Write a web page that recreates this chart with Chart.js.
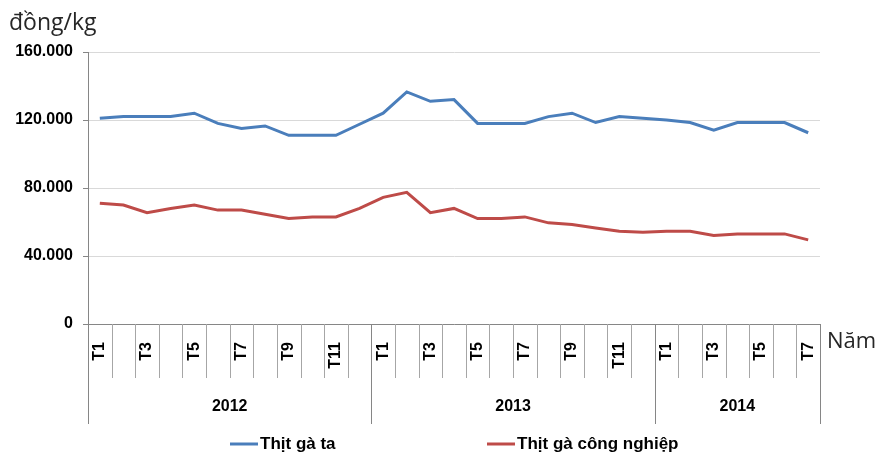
<!DOCTYPE html>
<html>
<head>
<meta charset="utf-8">
<script src="https://cdn.jsdelivr.net/npm/chart.js@4"></script>
<style>
  html, body { margin: 0; padding: 0; background: #fff; }
  #wrap { width: 877px; height: 454px; position: relative; }
</style>
</head>
<body>
<div id="wrap"><canvas id="chart"></canvas></div>
<script>
// Nhãn tháng và năm
const monthLabels = ['T1','T2','T3','T4','T5','T6','T7','T8','T9','T10','T11','T12',
                     'T1','T2','T3','T4','T5','T6','T7','T8','T9','T10','T11','T12',
                     'T1','T2','T3','T4','T5','T6','T7'];
const yearLabels = ['2012', '2013', '2014'];
const monthsPerYear = [12, 12, 7];

// Giá (đồng/kg)
const gaTa = [121000, 122000, 122000, 122000, 124000, 118000, 115000, 116500, 111000, 111000, 111000, 117500,
              124000, 136500, 131000, 132000, 118000, 118000, 118000, 122000, 124000, 118500, 122000, 121000,
              120000, 118500, 114000, 118500, 118500, 118500, 112500];
const gaCongNghiep = [71000, 70000, 65500, 68000, 70000, 67000, 67000, 64500, 62000, 63000, 63000, 68000,
                      74500, 77500, 65500, 68000, 62000, 62000, 63000, 59500, 58500, 56500, 54500, 54000,
                      54500, 54500, 52000, 53000, 53000, 53000, 49500];

const colors = {
    blue: '#4a7ebb',
    red: '#be4b48',
    grid: '#d9d9d9',
    axis: '#868686',
    sep: '#a6a6a6',
    text: '#000000'
};

const boldFont = "bold 16px 'Liberation Sans', Arial, sans-serif";

function formatVnd(v) {
    return String(v).replace(/\B(?=(\d{3})+(?!\d))/g, '.');
}

// Trục nhiều cấp, tiêu đề trục và chú thích
const extrasPlugin = {
    id: 'extras',
    afterDraw(chart) {
        const ctx = chart.ctx;
        const x = chart.scales.x;
        const area = chart.chartArea;
        const step = (area.right - area.left) / monthLabels.length;
        const yearBottom = area.bottom + 100;
        const monthBottom = area.bottom + 54;

        ctx.save();
        ctx.lineWidth = 1;
        // vạch phân cách tháng
        ctx.strokeStyle = colors.sep;
        for (let i = 1; i < monthLabels.length; i++) {
            const px = Math.round(x.getPixelForValue(i) - step / 2) + 0.5;
            ctx.beginPath();
            ctx.moveTo(px, area.bottom);
            ctx.lineTo(px, monthBottom);
            ctx.stroke();
        }
        // vạch phân cách năm + nhãn năm
        let start = 0;
        ctx.font = boldFont;
        ctx.fillStyle = colors.text;
        ctx.textAlign = 'center';
        ctx.textBaseline = 'middle';
        const edges = [start];
        monthsPerYear.forEach(n => { start += n; edges.push(start); });
        edges.forEach(e => {
            const px = Math.round(x.getPixelForValue(e) - step / 2) + 0.5;
            ctx.strokeStyle = colors.axis;
            ctx.beginPath();
            ctx.moveTo(px, area.bottom);
            ctx.lineTo(px, yearBottom);
            ctx.stroke();
        });
        yearLabels.forEach((yl, k) => {
            const x0 = x.getPixelForValue(edges[k]) - step / 2;
            const x1 = x.getPixelForValue(edges[k + 1]) - step / 2;
            ctx.fillText(yl, (x0 + x1) / 2, area.bottom + 83);
        });

        // tiêu đề trục
        ctx.font = "23px 'Open Sans', sans-serif";
        ctx.fillStyle = '#262626';
        ctx.textAlign = 'left';
        ctx.textBaseline = 'alphabetic';
        ctx.fillText('đồng/kg', 9, 30);
        ctx.font = "22px 'Open Sans', sans-serif";
        ctx.fillText('Năm', 827, 348);

        // chú thích
        const legend = [
            { label: 'Thịt gà ta', color: colors.blue, x: 230 },
            { label: 'Thịt gà công nghiệp', color: colors.red, x: 487 }
        ];
        ctx.font = "bold 17px 'Liberation Sans', Arial, sans-serif";
        ctx.textBaseline = 'middle';
        legend.forEach(item => {
            ctx.strokeStyle = item.color;
            ctx.lineWidth = 3;
            ctx.beginPath();
            ctx.moveTo(item.x, 444);
            ctx.lineTo(item.x + 28, 444);
            ctx.stroke();
            ctx.fillStyle = colors.text;
            ctx.fillText(item.label, item.x + 30, 444);
        });
        ctx.restore();
    }
};

new Chart(document.getElementById('chart'), {
    type: 'line',
    data: {
        labels: monthLabels,
        datasets: [{
            label: 'Thịt gà ta',
            data: gaTa,
            borderColor: colors.blue,
            backgroundColor: colors.blue,
            borderWidth: 3,
            pointRadius: 0,
            tension: 0
        }, {
            label: 'Thịt gà công nghiệp',
            data: gaCongNghiep,
            borderColor: colors.red,
            backgroundColor: colors.red,
            borderWidth: 3,
            pointRadius: 0,
            tension: 0
        }]
    },
    options: {
        responsive: true,
        maintainAspectRatio: false,
        animation: false,
        layout: { padding: { top: 52, right: 57, bottom: 29, left: 0 } },
        plugins: {
            legend: { display: false },
            tooltip: { enabled: false }
        },
        scales: {
            x: {
                offset: true,
                grid: { display: false, drawTicks: false },
                border: { display: true, color: colors.axis },
                ticks: {
                    autoSkip: false,
                    maxRotation: 90,
                    minRotation: 90,
                    padding: 18,
                    color: colors.text,
                    font: { family: "'Liberation Sans', Arial, sans-serif", size: 16, weight: 'bold' },
                    callback: function(value, index) {
                        return index % 2 === 0 ? monthLabels[index] : '';
                    }
                },
                afterFit(scale) { scale.height = 101; }
            },
            y: {
                min: 0,
                max: 160000,
                grid: { color: colors.grid, tickLength: 5, tickColor: colors.axis },
                border: { display: true, color: colors.axis },
                ticks: {
                    stepSize: 40000,
                    padding: 10,
                    color: colors.text,
                    font: { family: "'Liberation Sans', Arial, sans-serif", size: 16, weight: 'bold' },
                    callback: v => formatVnd(v)
                },
                afterFit(scale) { scale.width = 88; }
            }
        }
    },
    plugins: [extrasPlugin]
});
</script>
</body>
</html>
